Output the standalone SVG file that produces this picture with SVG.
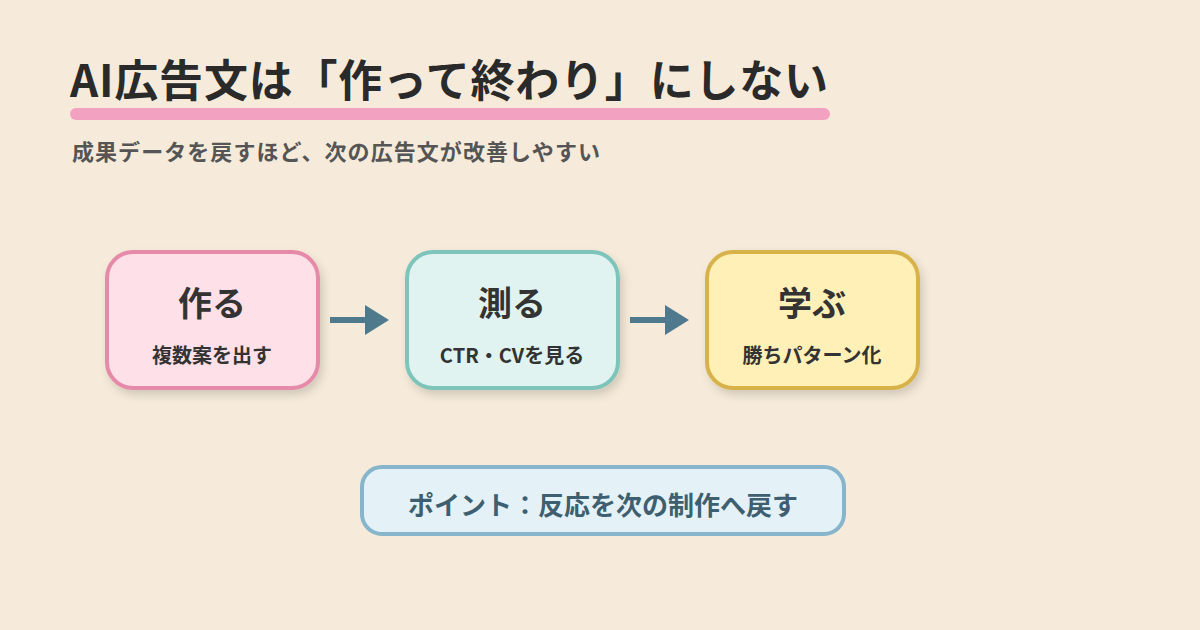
<svg xmlns="http://www.w3.org/2000/svg" width="1200" height="630" viewBox="0 0 1200 630">
<defs>
<filter id="sh" x="-20%" y="-20%" width="140%" height="150%"><feDropShadow dx="3" dy="5" stdDeviation="4" flood-color="#000" flood-opacity="0.15"/></filter>
<marker id="ah" markerWidth="4" markerHeight="5" refX="0.5" refY="2.5" orient="auto" markerUnits="strokeWidth"><path d="M0,0 L4,2.5 L0,5 Z" fill="#4f7a8e"/></marker>
</defs>
<style>
text{font-family:"Noto Sans CJK JP","Noto Sans",sans-serif;font-weight:bold}
.t{font-size:34px;fill:#333;text-anchor:middle}
.s{font-size:20px;fill:#333;text-anchor:middle}
.b{stroke-width:4;filter:url(#sh)}
.c{stroke:#4f7a8e;stroke-width:6;fill:none;marker-end:url(#ah)}
</style>
<rect width="1200" height="630" fill="#f6ebda"/>
<g id="title">
<rect x="70" y="108" width="760" height="12" rx="6" fill="#f2a2c0"/>
<text x="70" y="97" font-size="44" fill="#2a2a2a" textLength="758" lengthAdjust="spacing">AI広告文は「作って終わり」にしない</text>
<text x="72" y="160" font-size="22" fill="#555" textLength="528" lengthAdjust="spacing">成果データを戻すほど、次の広告文が改善しやすい</text>
</g>
<g id="n1"><rect class="b" x="107" y="252" width="211" height="136" rx="26" fill="#fde0e8" stroke="#e58aa8"/>
<text class="t" x="212" y="316">作る</text><text class="s" x="212" y="363">複数案を出す</text></g>
<g id="n2"><rect class="b" x="407" y="252" width="211" height="136" rx="26" fill="#e0f3f0" stroke="#7ec4bb"/>
<text class="t" x="512" y="316">測る</text><text class="s" x="512" y="363">CTR・CVを見る</text></g>
<g id="n3"><rect class="b" x="707" y="252" width="211" height="136" rx="26" fill="#fff0b8" stroke="#d6b24a"/>
<text class="t" x="812" y="316">学ぶ</text><text class="s" x="812" y="363">勝ちパターン化</text></g>
<g id="connectors">
<line class="c" x1="330" y1="320" x2="368" y2="320"/>
<line class="c" x1="630" y1="320" x2="668" y2="320"/>
</g>
<g id="point"><rect x="362" y="467" width="482" height="67" rx="20" fill="#e4f1f6" stroke="#86b5cc" stroke-width="4"/>
<text x="603" y="515" font-size="26" fill="#3d5f70" text-anchor="middle">ポイント：反応を次の制作へ戻す</text></g>
</svg>
